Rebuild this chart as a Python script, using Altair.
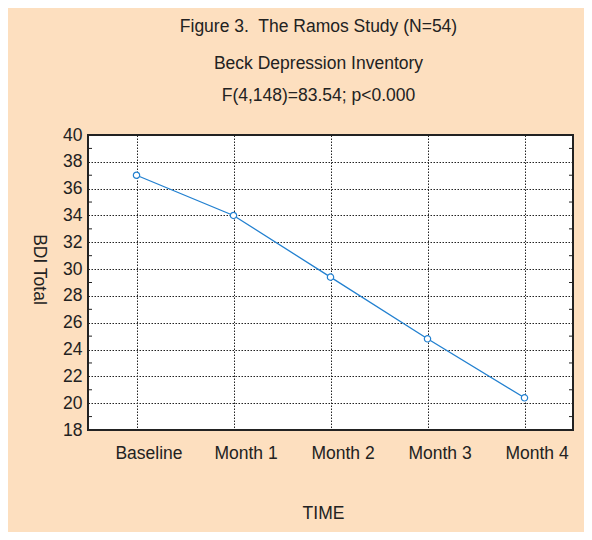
import altair as alt
import pandas as pd

# ---- data ----
times = ["Baseline", "Month 1", "Month 2", "Month 3", "Month 4"]
bdi_total = [37.0, 34.0, 29.4, 24.8, 20.4]
y_major = list(range(18, 41, 2))
y_minor = list(range(19, 40, 2))

df = pd.DataFrame({"TIME": times, "BDI": bdi_total})
minor_df = pd.DataFrame({"BDI": y_minor})

W, H = 485, 295
FONT = "Liberation Sans"
INK = "#222222"
BLUE = "#2280d0"
BG = "#fddfbf"
FS = 17.5
GRID = "#222222"
DASH = [1.5, 1.5]

x_enc = alt.X(
    "TIME:N",
    sort=times,
    scale=alt.Scale(type="point", padding=0.5),
    axis=alt.Axis(
        title="TIME",
        labelAngle=0,
        ticks=False,
        domain=False,
        grid=True,
        gridColor=GRID,
        gridDash=DASH,
        gridWidth=1,
        labelPadding=14,
        labelOffset=12,
        labelFontSize=FS,
        labelColor=INK,
        labelFont=FONT,
        titleFont=FONT,
        titleFontSize=FS,
        titleFontWeight="normal",
        titleColor=INK,
        titleX=235,
        titleY=83,
        titleBaseline="middle",
        titleAlign="center",
    ),
)

y_scale = alt.Scale(domain=[18, 40], nice=False, zero=False)

y_enc = alt.Y(
    "BDI:Q",
    scale=y_scale,
    axis=alt.Axis(
        title="BDI Total",
        values=y_major,
        ticks=False,
        domain=False,
        grid=True,
        gridColor=GRID,
        gridDash=DASH,
        gridWidth=1,
        labelPadding=6,
        labelFontSize=FS,
        labelColor=INK,
        labelFont=FONT,
        titleFont=FONT,
        titleFontSize=FS,
        titleFontWeight="normal",
        titleColor=INK,
        titleAngle=90,
        titleX=-50,
        titleY=134,
        titleAlign="center",
        titleBaseline="middle",
    ),
)

line = alt.Chart(df).mark_line(color=BLUE, strokeWidth=1.3).encode(x=x_enc, y=y_enc)
pts = alt.Chart(df).mark_point(
    shape="circle", filled=True, fill="white", stroke=BLUE, strokeWidth=1.2, size=40, opacity=1
).encode(x=x_enc, y=y_enc)

minor_left = alt.Chart(minor_df).mark_rule(color=INK, strokeWidth=1).encode(
    y=y_enc,
    x=alt.value(0),
    x2=alt.value(4),
)
minor_right = alt.Chart(minor_df).mark_rule(color=INK, strokeWidth=1).encode(
    y=y_enc,
    x=alt.value(W - 4),
    x2=alt.value(W),
)

chart = (
    alt.layer(line, pts, minor_left, minor_right)
    .properties(
        width=W,
        height=H,
        autosize="none",
        padding={"left": 80, "top": 127, "right": 11, "bottom": 102},
        background=BG,
        title=alt.TitleParams(
            text="Figure 3.\u00a0 The Ramos Study (N=54)",
            subtitle=["Beck Depression Inventory", "\u00a0F(4,148)=83.54; p<0.000"],
            font=FONT,
            subtitleFont=FONT,
            fontSize=17.5,
            subtitleFontSize=FS,
            fontWeight="normal",
            color=INK,
            subtitleColor=INK,
            anchor="middle",
            dx=-12,
            offset=22,
            subtitlePadding=19,
            subtitleLineHeight=32,
        ),
    )
    .configure_view(fill="white", stroke=INK, strokeWidth=2)
)

chart.save("out.html", embed_options={"renderer": "svg", "actions": False})
